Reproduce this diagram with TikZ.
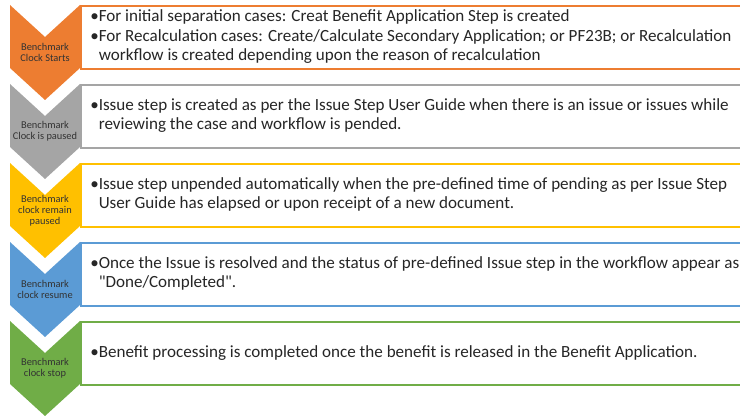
\documentclass[tikz,border=0pt]{standalone}
\usepackage{fontspec}
\setmainfont{Carlito}
\newfontfamily\plainquote{Carlito}
\usepackage{tikz}
\usetikzlibrary{positioning}

\definecolor{clkorange}{HTML}{ED7D31}
\definecolor{clkgray}{HTML}{A5A5A5}
\definecolor{clkgold}{HTML}{FFC000}
\definecolor{clkblue}{HTML}{5B9BD5}
\definecolor{clkgreen}{HTML}{70AD47}

\begin{document}
\begin{tikzpicture}[
    x=0.75pt, y=-0.75pt,
    every node/.style={inner sep=0pt},
    clocklabel/.style={font=\fontsize{7.8}{8.1}\selectfont, text=black!80, align=center},
    infobox/.style={rectangle, line width=1.3pt, fill=white, minimum width=510pt, minimum height=47.25pt, anchor=north west},
    infotext/.style={font=\fontsize{12.8}{14.6}\selectfont, text=black!85, anchor=west, xshift=7.5pt}
]
\useasboundingbox (0,0) rectangle (740,417);

% Chevrons
\fill [clkorange] (10,5) -- (45,37) -- (80,5) -- (80,68) -- (45,100) -- (10,68) -- cycle;
\fill [clkgray] (10,84) -- (45,116) -- (80,84) -- (80,147) -- (45,179) -- (10,147) -- cycle;
\fill [clkgold] (10,163) -- (45,195) -- (80,163) -- (80,226) -- (45,258) -- (10,226) -- cycle;
\fill [clkblue] (10,242) -- (45,274) -- (80,242) -- (80,305) -- (45,337) -- (10,305) -- cycle;
\fill [clkgreen] (10,321) -- (45,353) -- (80,321) -- (80,384) -- (45,416) -- (10,384) -- cycle;

% Chevron labels
\node (clk1) [clocklabel] at (45,52.5) {Benchmark\\Clock Starts};
\node (clk2) [clocklabel] at (45,131.5) {Benchmark\\Clock is paused};
\node (clk3) [clocklabel] at (45,210.5) {Benchmark\\clock remain\\paused};
\node (clk4) [clocklabel] at (45,289.5) {Benchmark\\clock resume};
\node (clk5) [clocklabel] at (45,368.5) {Benchmark\\clock stop};

% Boxes
\node (box1) [infobox, draw=clkorange] at (80,5) {};
\node (box2) [infobox, draw=clkgray] at (80,84) {};
\node (box3) [infobox, draw=clkgold] at (80,163) {};
\node (box4) [infobox, draw=clkblue] at (80,242) {};
\node (box5) [infobox, draw=clkgreen] at (80,321) {};

% Texts
\node (txt1) [infotext] at (box1.west) {\begin{tabular}{@{}l@{}l@{}}
    •&For initial separation cases: Creat Benefit Application Step is created\\
    •&For Recalculation cases: Create/Calculate Secondary Application; or PF23B; or Recalculation\\
    &workflow is created depending upon the reason of recalculation
  \end{tabular}};
\node (txt2) [infotext] at (box2.west) {\begin{tabular}{@{}l@{}l@{}}
    •&Issue step is created as per the Issue Step User Guide when there is an issue or issues while\\
    &reviewing the case and workflow is pended.
  \end{tabular}};
\node (txt3) [infotext] at (box3.west) {\begin{tabular}{@{}l@{}l@{}}
    •&Issue step unpended automatically when the pre-defined time of pending as per Issue Step\\
    &User Guide has elapsed or upon receipt of a new document.
  \end{tabular}};
\node (txt4) [infotext] at (box4.west) {\begin{tabular}{@{}l@{}l@{}}
    •&Once the Issue is resolved and the status of pre-defined Issue step in the workflow appear as\\
    &{\plainquote"}Done/Completed{\plainquote"}.
  \end{tabular}};
\node (txt5) [infotext] at (box5.west) {\begin{tabular}{@{}l@{}l@{}}
    •&Benefit processing is completed once the benefit is released in the Benefit Application.
  \end{tabular}};
\end{tikzpicture}
\end{document}
